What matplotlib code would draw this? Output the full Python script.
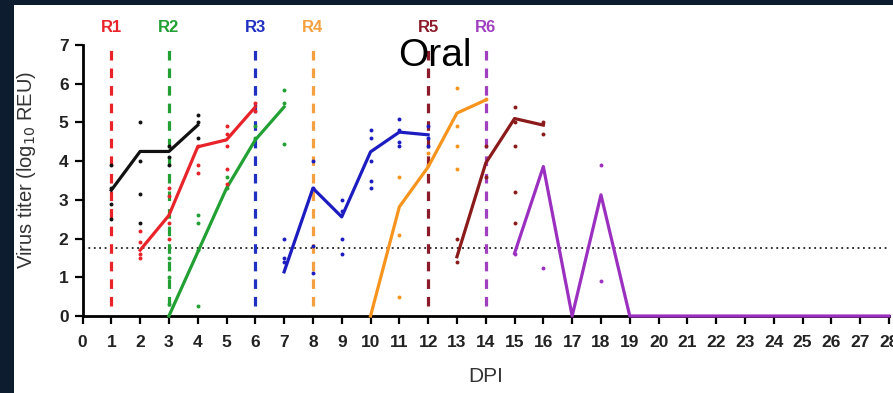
import matplotlib.pyplot as plt
from matplotlib.patches import Rectangle

plt.rcParams['font.family'] = ['Liberation Sans', 'DejaVu Sans']

# mean virus titer per group (log10 REU), starting day of each series
days_k = [1, 2, 3, 4]
mean_k = [3.25, 4.25, 4.25, 4.93]
days_r = [2, 3, 4, 5, 6]
mean_r = [1.7, 2.6, 4.37, 4.55, 5.4]
days_g = [3, 4, 5, 6, 7]
mean_g = [0.0, 1.65, 3.3, 4.55, 5.4]
days_b = [7, 8, 9, 10, 11, 12]
mean_b = [1.14, 3.3, 2.56, 4.24, 4.75, 4.68]
days_o = [10, 11, 12, 13, 14]
mean_o = [0.0, 2.82, 3.85, 5.24, 5.58]
days_d = [13, 14, 15, 16]
mean_d = [1.53, 3.95, 5.1, 4.93]
days_p = list(range(15, 29))
mean_p = [1.62, 3.86, 0, 3.13, 0, 0, 0, 0, 0, 0, 0, 0, 0, 0]

# individual samples
pts_k = {1: [3.9, 3.3, 2.9, 2.5], 2: [5.0, 4.0, 3.15, 2.4], 3: [4.4, 4.1, 3.9], 4: [5.2, 5.0, 4.6]}
pts_r = {2: [2.2, 1.9, 1.6, 1.5], 3: [3.3, 3.1, 2.4, 2.0], 4: [4.4, 3.9, 3.7],
         5: [4.9, 4.7, 4.4, 3.8, 3.4], 6: [5.5, 5.3]}
pts_g = {3: [1.5, 1.0, 0.3], 4: [2.6, 2.4, 1.7, 0.25], 5: [3.6, 3.3], 6: [4.9, 4.6], 7: [5.85, 5.5, 4.45]}
pts_b = {7: [2.0, 1.5, 1.4], 8: [4.0, 3.3, 1.8, 1.1], 9: [3.0, 2.7, 2.0, 1.6],
         10: [4.8, 4.6, 4.0, 3.5, 3.3], 11: [5.1, 4.8, 4.5, 4.4], 12: [4.9, 4.6, 4.4]}
pts_o = {11: [3.6, 2.1, 0.5], 12: [4.2, 3.9], 13: [5.9, 4.9, 4.4, 3.8], 14: [5.6]}
pts_d = {13: [2.0, 1.4], 14: [4.4, 3.6], 15: [5.4, 5.0, 4.4, 3.2, 2.4], 16: [5.0, 4.7]}
pts_p = {15: [1.6], 16: [1.25], 18: [3.9, 0.9]}

# re-inoculation days
r_days = [1, 3, 6, 8, 12, 14]
r_names = ['R1', 'R2', 'R3', 'R4', 'R5', 'R6']
r_colors = ['#e8232a', '#22a033', '#2030c0', '#f5a040', '#8b1a2a', '#a040c0']

limit = 1.75

fig = plt.figure(figsize=(8.93, 3.93), dpi=100)
fig.patch.set_facecolor('#0e1c30')
fig.patches.append(Rectangle((14 / 893, 0), 1, 388 / 393, transform=fig.transFigure,
                             facecolor='white', edgecolor='none', zorder=-10))

ax = fig.add_axes([82.5 / 893, 77 / 393, (889 - 82.5) / 893, 271 / 393])
ax.set_facecolor('white')

# dashed markers for each round
for d, n, c in zip(r_days, r_names, r_colors):
    ax.plot([d, d], [0.25, 7.05], color=c, lw=2.3, ls=(0, (3, 2.5)), clip_on=False, zorder=2)
    ax.text(d, 7.45, n, color=c, fontsize=12, fontweight='bold', ha='center', va='center')

ax.plot([0, 28], [limit, limit], color='#222222', lw=1.3, ls=(0, (1, 2)), zorder=1)

groups = [
    (days_k, mean_k, pts_k, '#111111'),
    (days_r, mean_r, pts_r, '#e8232a'),
    (days_g, mean_g, pts_g, '#22a033'),
    (days_b, mean_b, pts_b, '#1c1cc0'),
    (days_o, mean_o, pts_o, '#f7941d'),
    (days_d, mean_d, pts_d, '#8b1a1a'),
    (days_p, mean_p, pts_p, '#9b30c0'),
]
for dx, my, pts, c in groups:
    ax.plot(dx, my, color=c, lw=2.3, zorder=3, clip_on=False)
    for d, vals in pts.items():
        ax.scatter([d] * len(vals), vals, s=8, color=c, zorder=4, linewidths=0)

ax.text(12.25, 6.72, 'Oral', fontsize=28, ha='center', va='center', color='black', zorder=5)

ax.set_xlim(0, 28)
ax.set_ylim(0, 7)
ax.set_xticks(range(0, 29))
ax.set_yticks(range(0, 8))
ax.spines['top'].set_visible(False)
ax.spines['right'].set_visible(False)
ax.spines['left'].set_linewidth(2)
ax.spines['bottom'].set_linewidth(2)
ax.tick_params(width=1.6, length=6, labelsize=12.5)
ax.tick_params(axis='x', pad=8)
ax.tick_params(axis='y', pad=4)
for lab in ax.get_xticklabels() + ax.get_yticklabels():
    lab.set_fontweight('bold')
    lab.set_color('#222222')

ax.set_xlabel('DPI', fontsize=15, color='#333333', va='center')
ax.xaxis.set_label_coords(0.5, -0.225)
ax.set_ylabel('Virus titer (log$_{10}$ REU)', fontsize=14.5, color='#333333', va='center')
ax.yaxis.set_label_coords(-0.069, 0.54)

fig.savefig('out.png', dpi=100)
